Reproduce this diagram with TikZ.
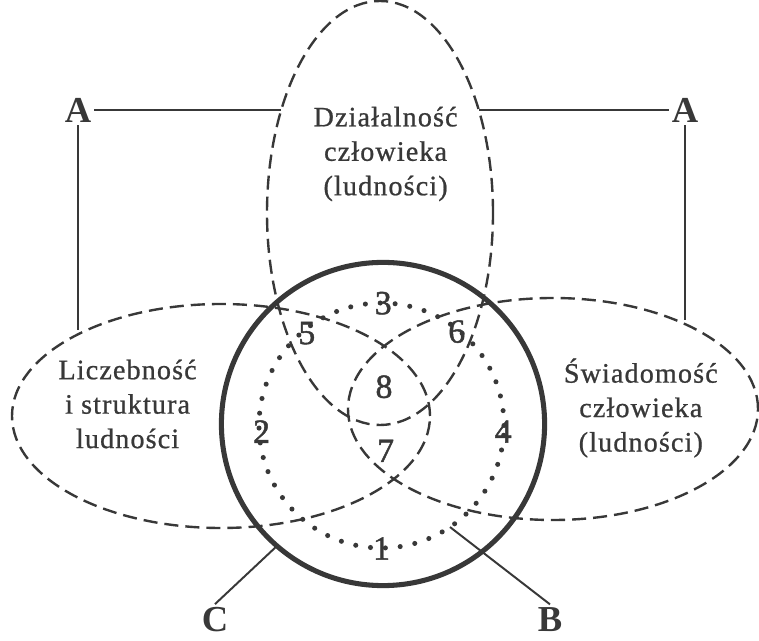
\documentclass[tikz,border=0pt]{standalone}
\usepackage{fontspec}
\setmainfont{Liberation Serif}
\newfontfamily\labelfont[LetterSpace=4,FakeBold=0.8]{Liberation Serif}
\newfontfamily\numfont[FakeBold=1.4]{Liberation Serif}
\definecolor{ink}{gray}{0.22}

\begin{document}
\begin{tikzpicture}[scale=1,
  every node/.style={text=ink},
  dashline/.style={draw=ink, line width=1.7pt, dash pattern=on 10pt off 5pt},
  dotline/.style={draw=ink, line width=3.6pt, line cap=round, dash pattern=on 0pt off 10.6pt},
  thinline/.style={draw=ink, line width=1.4pt},
  field/.style={align=center, font=\labelfont\fontsize{20}{24.5}\selectfont},
  num/.style={font=\numfont\fontsize{24}{24}\selectfont},
  letter/.style={font=\bfseries\fontsize{26}{26}\selectfont, inner sep=2pt}]
  \useasboundingbox (0,0) rectangle (18.975,16);
  % three dashed ellipses
  \draw[dashline] (9.5,10.675) ellipse [x radius=2.825, y radius=5.3];
  \draw[dashline] (5.525,5.6) ellipse [x radius=5.225, y radius=2.8];
  \draw[dashline] (13.825,5.775) ellipse [x radius=5.125, y radius=2.775];
  % bold circle and dotted circle
  \node[circle, draw=ink, line width=3.6pt, minimum size=8.08cm, inner sep=0pt, outer sep=0pt] (big) at (9.575,5.4) {};
  \node[circle, dotline, minimum size=6.125cm, inner sep=0pt, outer sep=0pt] (dots) at (9.5375,5.3625) {};
  % texts of the ellipses
  \node[field] (act) at (9.64,12.15) {Działalność\\człowieka\\(ludności)};
  \node[field] (pop) at (3.19,5.9) {Liczebność\\i struktura\\ludności};
  \node[field] (mind) at (16.02,5.8) {Świadomość\\człowieka\\(ludności)};
  % region numbers
  \node[num] (n1) at (9.54,2.29) {1};
  \node[num] (n2) at (6.54,5.21) {2};
  \node[num] (n3) at (9.58,8.42) {3};
  \node[num] (n4) at (12.58,5.21) {4};
  \node[num] (n5) at (7.67,7.67) {5};
  \node[num] (n6) at (11.42,7.71) {6};
  \node[num] (n7) at (9.64,4.73) {7};
  \node[num] (n8) at (9.6,6.33) {8};
  % letters
  \node[letter] (al) at (1.95,13.25) {A};
  \node[letter] (ar) at (17.125,13.25) {A};
  \node[letter, outer sep=0pt] (c) at (5.375,0.52) {C};
  \node[letter, outer sep=0pt] (b) at (13.75,0.52) {B};
  % line ends
  \coordinate (tl) at (7.03,13.25);
  \coordinate (tr) at (11.97,13.25);
  \coordinate (bl) at (1.95,7.75);
  \coordinate (br) at (17.125,8.0);
  % connectors
  \draw[thinline] (al) -- (tl);
  \draw[thinline] (al) -- (bl);
  \draw[thinline] (ar) -- (tr);
  \draw[thinline] (ar) -- (br);
  \draw[thinline] (c.north) -- (big.229);
  \draw[thinline] (b.north) -- (dots.-56);
\end{tikzpicture}
\end{document}
